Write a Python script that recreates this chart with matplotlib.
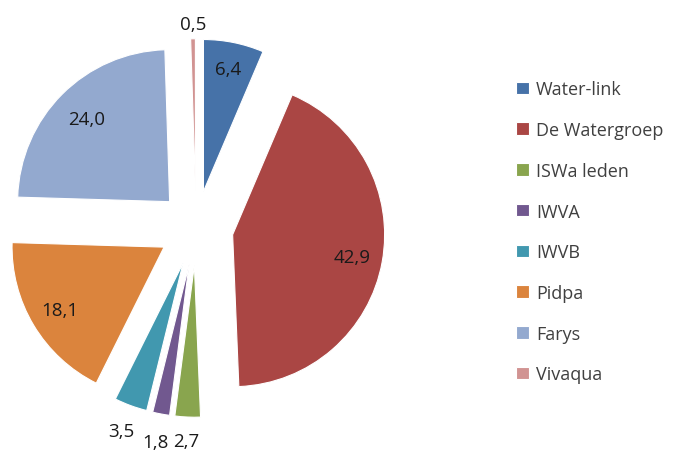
import numpy as np
import matplotlib.pyplot as plt

# data ------------------------------------------------------------------
names = ["Water-link", "De Watergroep", "ISWa leden", "IWVA", "IWVB", "Pidpa", "Farys", "Vivaqua"]
shares = [6.4, 42.9, 2.7, 1.8, 3.5, 18.1, 24.0, 0.5]
share_labels = ["6,4", "42,9", "2,7", "1,8", "3,5", "18,1", "24,0", "0,5"]
colors = ["#4672A8", "#AA4644", "#89A54E", "#71588F", "#4198AF", "#DB843D", "#93A9CF", "#D19392"]

# label distance (in radii) per slice
lab_dist = [0.82, 0.8, 1.16, 1.19, 1.18, 0.8, 0.77, 1.1]

plt.rcParams['font.family'] = ['Open Sans', 'DejaVu Sans']

fig = plt.figure(figsize=(6.77, 4.52), dpi=100)
ax = fig.add_axes([0, 0, 400 / 677, 1])

expl = 0.245
wedges, _ = ax.pie(shares, colors=colors, startangle=90, counterclock=False,
                   explode=[expl] * len(shares), radius=1,
                   wedgeprops=dict(edgecolor="white", linewidth=0.8))

for w, lab, d in zip(wedges, share_labels, lab_dist):
    mid = np.deg2rad((w.theta1 + w.theta2) / 2)
    cx, cy = w.center
    x = cx + d * np.cos(mid)
    y = cy + d * np.sin(mid)
    ax.text(x, y, lab, ha="center", va="center", fontsize=13.5, color="#1a1a1a")

ax.set_xlim(-196 / 152, (400 - 196) / 152)
ax.set_ylim((229 - 452) / 152, 229 / 152)
ax.set_aspect("auto")
ax.axis("off")

leg = fig.legend(wedges, names, loc="upper left", bbox_to_anchor=(500 / 677, 1 - 65 / 452),
                 frameon=False, fontsize=13, handlelength=0.68, handleheight=0.68,
                 handletextpad=0.4, labelspacing=1.26)
for t in leg.get_texts():
    t.set_color("#404040")

fig.savefig("out.png", dpi=100)
